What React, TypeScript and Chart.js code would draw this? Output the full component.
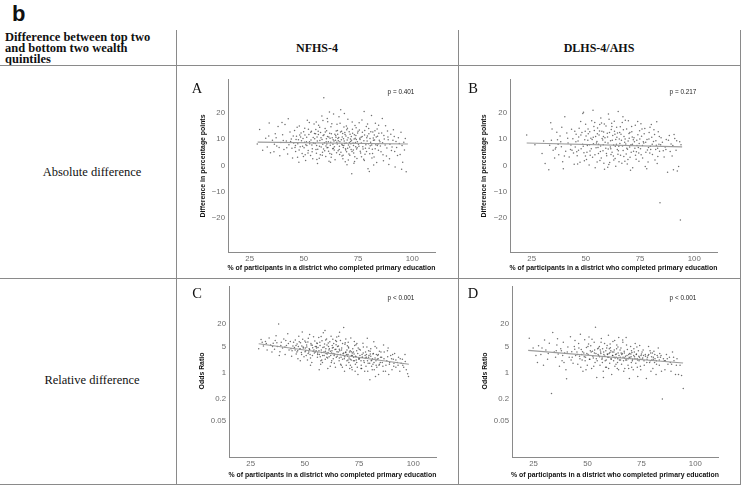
import React, { useEffect, useRef } from "react";
import { Chart, registerables } from "chart.js";
Chart.register(...registerables);

const xTicks = [25, 50, 75, 100];
const absTicks = [-20, -10, 0, 10, 20];
const relTicks = [0.05, 0.2, 1, 5, 20];

const pointsA: number[][] = [
  [28.5,8.2],[29.6,13.7],[31,5.8],[32.4,10.4],[33.1,7.1],[34,16.2],[34.6,4.9],[33.8,11.3],
  [35.5,9.6],[36.2,5.2],[36.8,12.1],[37.5,7.4],[38.1,14.9],[38.9,3.7],[39.4,8.8],[40.2,11.7],[40.8,6.1],[41.3,15.6],[41.9,9.3],[42.5,4.4],[43.1,7.9],[43.6,12.8],[44.2,10.1],[44.8,2.9],[42.8,17.8],[39.9,16.4],[44.5,6.6],[37.2,10.6],
  [45.3,8.6],[45.7,13.4],[46.2,5.3],[46.6,11.2],[47.1,3.1],[47.5,9.8],[47.9,15.1],[48.3,7.2],[48.7,12.4],[49.2,4.6],[49.6,10.3],[50.1,6.8],[50.4,14.2],[50.8,1.9],[51.2,9.1],[51.6,17.3],[52,5.7],[52.3,11.8],[52.7,8.3],[53.1,3.8],[53.5,13.1],[53.9,6.4],[54.3,10.7],[54.7,15.8],[45.9,6.9],[46.9,14.6],[47.7,1.2],[48.9,9.4],[49.9,12.9],[50.6,4.1],[51.4,7.6],[52.5,16.4],[53.3,9.7],[54.1,2.6],[54.9,12.2],[46.4,9.9],[48.1,11.6],[50.3,8.9],[52.1,13.8],[53.7,7.8],
  [55.2,8.4],[55.5,13.7],[55.8,4.7],[56.1,10.9],[56.4,6.2],[56.8,15.4],[57.1,2.8],[57.4,9.5],[57.7,12.6],[58,7.1],[58.3,18.9],[58.6,5.1],[58.9,11.4],[59.2,25.8],[59.5,8.7],[59.8,14.1],[60.1,3.4],[60.4,10.2],[60.7,6.8],[61,16.7],[61.3,9.1],[61.6,1.6],[61.9,12.3],[62.2,7.7],[62.5,14.8],[62.8,4.3],[63.1,10.6],[63.4,8.1],[63.7,19.6],[64,5.9],[64.3,11.9],[64.6,9.6],[64.9,13.2],[55.9,7.6],[56.7,11.8],[57.6,4.1],[58.4,9.9],[59.1,6.3],[59.9,12.8],[60.6,8.2],[61.4,5.4],[62.1,10.4],[62.9,15.9],[63.6,6.6],[64.4,2.2],[57.3,14.6],[60.9,11.1],[63.9,9.3],[56.3,0.8],[61.8,20.4],[58.8,17.2],[62.6,3.1],[60.2,7.4],[64.8,10.8],[55.4,12.1],
  [65.2,8.9],[65.5,13.4],[65.8,5.6],[66.1,10.7],[66.4,7.3],[66.7,16.1],[67,21.3],[67.3,9.8],[67.6,3.6],[67.9,12.2],[68.2,6.9],[68.5,14.7],[68.8,8.4],[69.1,1.4],[69.4,11.3],[69.7,5.2],[70,9.7],[70.3,17.6],[70.6,7.8],[70.9,12.9],[71.2,3.9],[71.5,10.1],[71.8,6.1],[72.1,-3.1],[72.4,13.8],[72.7,8.6],[73,4.8],[73.3,11.7],[73.6,15.3],[73.9,7.2],[74.2,9.9],[74.5,2.7],[74.8,12.4],[65.6,11.9],[66.5,4.2],[67.4,13.1],[68.3,10.2],[69.2,6.4],[70.1,14.2],[71,8.8],[71.9,11.1],[72.8,5.9],[73.7,10.4],[74.6,6.8],[66.2,18.6],[68.7,19.8],[70.5,2.1],[72.3,16.6],[74.1,14.4],[69.9,0.3],[67.8,7.7],[71.6,9.2],[73.4,1.5],[65.9,9.4],[68.9,12.6],
  [75.2,8.1],[75.6,13.5],[76,5.4],[76.4,10.8],[76.8,17.4],[77.2,7.2],[77.6,2.4],[78,11.6],[78.4,6.6],[78.8,14.9],[79.2,9.3],[79.6,-1.2],[80,12.1],[80.4,4.5],[80.8,8.9],[81.2,19.1],[81.6,6.2],[82,10.5],[82.4,3.2],[82.8,13.3],[83.2,7.9],[83.6,1.1],[84,11.2],[84.4,5.8],[84.8,9.6],[75.9,9.9],[77,12.7],[78.2,4.3],[79.4,15.8],[80.6,7.5],[81.8,12.8],[83,16.1],[84.2,8.2],[76.6,3.3],[79,10.6],[81.4,2.9],[83.8,13.9],[77.8,20.6],[80.2,-2.3],[82.6,9.7],
  [85.3,7.4],[85.9,12.4],[86.5,4.1],[87.1,10.1],[87.7,15.2],[88.3,6.7],[88.9,9.8],[89.5,2.6],[90.1,11.9],[90.7,7.1],[91.3,13.6],[91.9,5.3],[92.5,9.2],[93.2,3.8],[94,8.4],[94.8,12.7],[95.6,1.2],[96.4,5.9],[97.2,-2.4],[96.8,10.3],[86.2,17.9],[89.2,0.4],[92.1,-0.6],[95.1,-1.4],[88.6,13.2],
  [50.9,7.9],[51.3,10.8],[51.9,4.8],[52.6,9.1],[53.2,12.7],[53.8,5.2],[54.4,8.6],[55,10.2],[55.6,6.1],[56.2,9.3],[56.6,13.1],[57.2,7.3],[57.9,10.6],[58.5,3.9],[58.7,8.1],[59.3,11.7],[59.6,5.6],[60.3,9.1],[60.5,13.3],[61.1,6.9],[61.5,10.9],[62,4.6],[62.4,8.9],[62.7,12.1],[63.3,6.4],[63.5,9.8],[64.1,7.2],[64.7,11.4],[65.1,4.9],[65.4,8.2],[65.7,10.3],[66.3,6.1],[66.6,9.1],[66.9,12.8],[67.1,5.1],[67.5,8.1],[67.7,10.9],[68.1,3.9],[68.4,7.6],[68.6,9.3],[69,11.8],[69.3,5.9],[69.5,8.6],[69.8,13.6],[70.2,6.6],[70.4,10.6],[70.8,4.4],[71.1,7.1],[71.3,11.9],[71.7,8.3],[72,9.6],[72.2,5.3],[72.5,12.3],[72.9,7.6],[73.2,10.1],[73.5,3.3],[73.8,8.8],[74,11.4],[74.3,6.3],[74.7,9.1],[75,13.1],[75.4,7.3],[75.8,10.4],[76.2,4.8],[76.5,8.6],[76.9,11.1],[77.3,6.3],[77.7,9.4],[78.1,13.4],[78.6,7.9],[78.9,5.3],[79.3,11.3],[79.8,8.3],[80.1,6.6],[80.5,10.3],[80.9,12.9],[81.3,7.8],[81.7,4.6],[82.1,9.6],[82.5,11.6],[82.9,6.4],[83.4,10.9],[83.9,7.6],[84.6,12.3],[85.1,9.1],[85.6,5.2],[86.3,8.7],[86.9,11.4],[87.5,7.8],[88.1,3.6],[88.8,10.9],[89.7,8.1],[90.4,5.7],[91.1,9.6],[91.7,11.1],[92.8,6.9],[93.6,10.6],[94.4,4.2],[95.3,7.6],[96.1,8.9],[47.2,8.3],[47.8,5.9],[48.5,10.9],[49.4,7.3],[49.8,3.4],[50.5,11.6],[45.1,11.3],[46.1,7.6],[43.9,9.2],[42.1,6.8],[40.5,9.5],[38.6,6.9],[36.4,8.1],[55.7,16.6],[60.8,17.9],[65.3,15.7],[69.6,15.1],[75.5,16.3],[79.9,14.1],[84.5,15.4],[56,2.3],[62.3,1.2],[68,2.6],[73.1,0.9],[77.9,1.9],[82.2,0.2],[86.7,1.8]
];
const lineA: number[][] = [[28.7, 8.9], [98, 8.2]];

const pointsB: number[][] = [
  [22.7,11.6],[26.5,7.9],[29.8,4.6],[31.2,0.8],[32.9,-1.6],[33.3,7.7],[33.8,16.3],[34.4,13.9],[34.9,5.8],[30.5,9.3],
  [35.6,2.9],[36.2,6.9],[36.9,9.8],[37.5,4.1],[38.1,11.3],[38.7,7.2],[39.3,1.4],[39.6,-1.2],[40.3,18.6],[40.7,5.4],[41.2,12.4],[41.8,8.6],[42.3,3.2],[42.9,6.1],[43.4,13.8],[44,10.2],[44.6,0.5],[36.6,12.7],[38.9,14.6],[43.1,7.8],[35.9,6.3],[44.3,4.8],
  [45.1,7.1],[45.5,11.9],[46,3.7],[46.4,9.3],[46.9,14.2],[47.3,1.2],[47.8,6.4],[48.2,12.6],[48.6,19.8],[49.1,4.9],[49.5,9.8],[49.9,15.7],[50.3,2.3],[50.7,7.6],[51.1,12.1],[51.5,0.2],[51.9,5.5],[52.3,10.4],[52.7,17.1],[53.1,3.1],[53.5,8.3],[53.9,13.4],[54.3,-0.9],[54.7,6.8],[45.8,5.2],[46.7,10.9],[47.6,16.8],[48.5,8.1],[49.3,1.8],[50.1,11.3],[51,13.9],[52,3.9],[52.9,9.9],[53.7,14.9],[54.5,11.1],[48.9,20.3],[46.2,0.6],[50.5,5.1],[53.3,21.1],[54.1,16.4],[51.7,7.9],[49.7,13.1],
  [55.1,9.2],[55.4,14.3],[55.8,4.6],[56.1,11.6],[56.5,1.9],[56.8,7.4],[57.2,16.2],[57.5,10.3],[57.9,5.6],[58.2,12.8],[58.6,-1.4],[58.9,8.9],[59.3,15.1],[59.6,3.7],[60,10.9],[60.3,6.3],[60.7,17.6],[61,1.1],[61.4,9.4],[61.7,13.7],[62.1,5.1],[62.4,11.4],[62.8,7.8],[63.1,16.9],[63.5,2.7],[63.8,9.9],[64.2,14.6],[64.5,6.1],[64.9,20.6],[55.6,6.9],[56.3,13.2],[57.1,2.9],[57.8,9.7],[58.5,15.8],[59.2,6.6],[59.9,12.3],[60.6,0.4],[61.3,7.1],[62,14.9],[62.7,3.6],[63.4,11.9],[64.1,8.1],[64.8,4.3],[56.9,18.1],[60.1,-0.7],[63.2,13.1],[58.1,11.1],[61.6,4.2],[55.2,1.3],[64.6,12.4],
  [65.2,7.3],[65.6,12.6],[66,3.9],[66.4,9.6],[66.8,16.4],[67.2,5.7],[67.6,11.1],[68,1.6],[68.4,8.2],[68.8,13.9],[69.2,6.2],[69.6,17.1],[70,10.4],[70.4,3.1],[70.8,7.9],[71.2,12.9],[71.6,-0.9],[72,5.4],[72.4,9.1],[72.8,15.4],[73.2,2.4],[73.6,7.6],[74,11.7],[74.4,4.8],[74.8,13.3],[65.9,14.8],[66.6,0.9],[67.9,8.9],[68.6,4.4],[69.9,12.2],[70.6,-1.8],[71.9,9.8],[72.6,6.6],[73.9,16.8],[74.6,8.4],[67.3,13.6],[69.4,2.3],[71.4,10.9],[73.3,5.2],[65.4,10.1],[70.2,7.1],[68.2,17.3],
  [75.2,6.4],[75.7,11.2],[76.2,2.9],[76.7,8.6],[77.2,14.1],[77.7,5.1],[78.2,9.9],[78.7,1.3],[79.2,12.6],[79.7,7.3],[80.2,15.6],[80.7,4.2],[81.2,9.2],[81.7,11.8],[82.2,6.1],[82.7,16.7],[83.2,3.4],[83.7,8.1],[84.2,-14.2],[84.7,10.6],[75.9,13.9],[77.4,-0.4],[78.9,6.9],[80.4,10.8],[81.9,2.1],[83.4,12.9],[76.5,9.1],[79.5,4.8],[82.5,7.7],[84,5.4],
  [85.3,8.9],[86.1,3.2],[86.9,6.1],[87.7,-2.6],[88.5,11.4],[89.3,8.2],[89.8,3.6],[90.4,-1.6],[91,10.3],[91.6,5.8],[92.2,-2.1],[92.8,-0.4],[93.3,9.1],[93.6,-20.8],[93.9,7.9],[88.1,9.6],[90.7,11.8],[86.6,7.1],
  [45.4,9.1],[46.6,5.8],[47.7,11.6],[48.8,7.3],[49.8,3.6],[50.9,9.6],[51.8,12.9],[52.5,6.4],[53.4,10.8],[54.2,4.1],[54.9,8.6],[55.3,12.1],[55.9,8.1],[56.7,5.3],[57.4,13.1],[58,7.9],[58.8,10.6],[59.5,4.6],[60.2,8.6],[60.9,12.6],[61.5,6.4],[62.2,9.6],[62.9,2.1],[63.6,7.3],[64.3,10.8],[65,5.6],[65.7,8.4],[66.2,11.9],[66.9,7.4],[67.5,3.4],[68.1,10.1],[68.9,6.6],[69.5,9.3],[70.3,12.6],[70.9,5.1],[71.5,8.1],[72.2,10.6],[72.9,3.9],[73.5,9.6],[74.2,6.9],[74.9,10.1],[75.5,4.1],[76.1,7.6],[76.9,12.1],[77.6,8.9],[78.4,5.9],[79.1,10.1],[79.9,6.1],[80.6,8.1],[81.4,13.6],[82.3,9.4],[83.1,6.6],[83.9,11.1],[84.5,7.9],[85.7,5.6],[87.1,9.9],[88.9,5.3],[90.1,7.6],[91.9,9.4],[38.4,9.1],[40.1,3.6],[41.6,10.4],[43.6,5.8],[44.9,13.1],[37.2,8.1],[34.1,9.6],[56.4,15.6],[61.9,16.1],[67.1,18.6],[71.1,14.9],[75.4,15.9],[79.6,14.6],[58.3,0.9],[63.8,-0.3],[69.1,0.6],[74.5,1.6],[78.1,-1.2],[82.9,0.8],[60.4,19.6],[65.3,1.4]
];
const lineB: number[][] = [[22.7, 8.6], [94.4, 7.1]];

const pointsC: number[][] = [
  [28.7,4.4],[29.8,7.8],[30.9,5.2],[31.8,6.9],[32.6,4.1],[33.5,8.6],[34.2,5.6],[34.8,3.6],
  [35.4,6.2],[36,4.3],[36.7,9.8],[37.3,5.1],[37.9,20.5],[38.5,3.7],[39.1,6.6],[39.7,4.6],[40.3,8.1],[40.9,3.1],[41.5,5.4],[42.1,11.2],[42.7,4.1],[43.3,6.9],[43.9,2.8],[44.5,5.2],[36.3,7.4],[38.2,2.9],[41.2,7.3],[44.1,3.9],
  [45.2,4.8],[45.6,7.6],[46,3.2],[46.4,5.9],[46.8,2.4],[47.2,9.6],[47.6,4.3],[48,6.4],[48.4,3.5],[48.8,12.4],[49.2,4.9],[49.6,2.7],[50,7.1],[50.4,3.9],[50.8,5.6],[51.2,2.2],[51.6,8.4],[52,4.4],[52.4,3.1],[52.8,6.1],[53.2,1.9],[53.6,4.7],[54,9.2],[54.4,3.4],[54.8,5.1],[45.9,5.4],[46.7,3.9],[47.9,2.1],[49,7.9],[50.2,4.6],[51.4,6.7],[52.6,1.6],[53.8,3.8],[54.6,7.1],[48.6,5.2],[50.6,2.9],[52.2,10.6],[53.4,5.5],[47.4,6.8],[51.8,3.6],
  [55.2,3.9],[55.5,6.3],[55.8,2.6],[56.1,4.8],[56.4,8.9],[56.7,3.1],[57,5.4],[57.3,1.7],[57.6,4.1],[57.9,7.2],[58.2,2.9],[58.5,11.8],[58.8,3.6],[59.1,5.9],[59.4,2.3],[59.7,4.4],[60,8.1],[60.3,3.2],[60.6,1.3],[60.9,5.1],[61.2,2.7],[61.5,6.8],[61.8,3.8],[62.1,9.6],[62.4,2.1],[62.7,4.6],[63,3.3],[63.3,6.1],[63.6,1.8],[63.9,4.2],[64.2,7.4],[64.5,2.6],[64.8,3.7],[55.9,3.4],[56.9,6.6],[57.8,2.2],[58.9,4.9],[59.8,3.3],[60.8,6.3],[61.7,1.5],[62.6,5.4],[63.5,2.9],[64.4,5.7],[56.6,1.2],[59.3,13.6],[61.1,4.1],[62.9,7.9],[64.1,1.4],[57.5,9.4],[60.5,2.5],[63.1,4.8],[58.1,1.9],[62.3,3.4],[55.3,5.1],[64.7,9.1],
  [65.2,3.1],[65.5,5.2],[65.8,2.1],[66.1,3.9],[66.4,7.4],[66.7,2.6],[67,4.6],[67.3,1.4],[67.6,3.3],[67.9,16.3],[68.2,2.4],[68.5,5.8],[68.8,3.5],[69.1,1.6],[69.4,4.1],[69.7,2.8],[70,6.6],[70.3,1.9],[70.6,3.6],[70.9,2.3],[71.2,8.6],[71.5,2.9],[71.8,1.2],[72.1,4.4],[72.4,2.1],[72.7,3.2],[73,5.4],[73.3,1.7],[73.6,2.7],[73.9,3.9],[74.2,1.4],[74.5,0.9],[74.8,2.5],[65.6,9.6],[66.5,1.7],[67.4,6.1],[68.3,1.1],[69.2,3.1],[70.1,4.9],[71,1.6],[71.9,3.4],[72.8,6.9],[73.7,2.2],[74.6,4.6],[66,12.2],[68.9,8.1],[70.7,1.3],[72.5,2.6],[74,6.1],[67.7,2.9],[69.6,5.3],[71.4,3.7],[73.2,1.1],[65.9,4.3],[69.9,2.2],
  [75.2,2.4],[75.6,4.1],[76,1.6],[76.4,3.1],[76.8,6.2],[77.2,2.1],[77.6,1.1],[78,3.6],[78.4,2.6],[78.8,8.4],[79.2,1.8],[79.6,2.9],[80,0.65],[80.4,4.4],[80.8,1.5],[81.2,2.4],[81.6,3.3],[82,1.2],[82.4,5.1],[82.8,2.1],[83.2,1.4],[83.6,2.9],[84,0.9],[84.4,3.8],[84.8,1.9],[75.9,1.3],[77,4.9],[78.2,1.5],[79.4,3.9],[80.6,2.1],[81.8,6.8],[83,3.1],[84.2,1.6],[76.6,2.6],[79,1.1],[81.4,1.7],[83.8,2.4],[77.8,2.9],[80.2,3.2],[82.6,0.8],
  [85.4,2.6],[86,1.5],[86.6,3.6],[87.2,1.1],[87.8,2.1],[88.4,4.6],[89,1.7],[89.6,2.9],[90.2,1.2],[90.8,2.3],[91.4,3.3],[92,1.4],[92.6,1.9],[93.2,2.6],[93.8,1.1],[94.4,1.8],[95,2.3],[95.6,1.4],[96.2,3.1],[96.8,1.2],[97.4,0.95],[97.8,0.8],[86.3,5.6],[88.7,0.9],[91.1,1.8],
  [45.5,4.1],[46.3,3.6],[47,5.1],[47.8,4.4],[48.5,3.1],[49.3,4.6],[50.1,3.7],[50.9,4.9],[51.5,3.3],[52.2,4.2],[52.9,5.6],[53.5,2.9],[54.2,4.1],[54.9,3.6],[55.4,4.6],[55.9,3.1],[56.5,3.9],[57.1,2.7],[57.7,3.5],[58.3,4.8],[58.9,2.9],[59.5,3.8],[60.1,2.6],[60.7,3.5],[61.3,4.4],[61.9,2.9],[62.5,3.9],[63.1,2.4],[63.7,3.2],[64.3,4.3],[64.9,2.8],[65.4,3.6],[65.9,2.5],[66.4,3.1],[66.9,4.1],[67.4,2.3],[67.9,3.4],[68.4,2.7],[68.9,3.6],[69.4,2.1],[69.9,3.1],[70.4,2.5],[70.9,3.9],[71.4,2.2],[71.9,2.9],[72.4,3.6],[72.9,2.1],[73.4,2.8],[73.9,1.9],[74.4,3.3],[74.9,2.3],[75.4,2.9],[75.9,2.1],[76.4,2.6],[76.9,3.4],[77.4,1.9],[77.9,2.5],[78.4,3.1],[78.9,2.1],[79.4,2.6],[79.9,1.8],[80.4,2.8],[80.9,2.2],[81.4,3.2],[81.9,1.9],[82.4,2.5],[82.9,1.6],[83.4,2.3],[83.9,3.1],[84.4,1.7],[84.9,2.6],[85.7,1.9],[86.5,2.4],[87.4,1.6],[88.2,2.7],[89.1,1.9],[90,2.4],[91,1.5],[92,2.2],[93,1.6],[94,2.4],[95.2,1.6],[96.3,2],[40.8,4.9],[42.4,6.1],[43.6,4.4],[44.8,6.6],[38.9,5.4],[37.1,6.4],[35.1,5.1],[32.2,6.1],[30.3,6.6],[50.4,6.6],[55.7,6.1],[60.2,5.6],[65.1,5.1],[70.2,4.6],[75.1,4.3],[80.1,3.8],[85.1,3.6],[90.5,3.1],[52.6,2.5],[57.4,2.1],[62.2,1.9],[66.8,1.6],[71.6,1.4],[76.2,1.3],[81.1,1.2],[86.2,1.1],[59.6,7.6],[64.6,6.9],[68.6,6.4],[73.6,5.7],[78.6,4.9],[83.1,4.6],[88.1,3.9]
];
const lineC: number[][] = [[28.7, 6.0], [98, 1.7]];

const pointsD: number[][] = [
  [23,8.5],[24.8,4.6],[26.1,2.9],[27.3,5.3],[28.4,3.1],[29.6,1.6],[30.7,4.1],[31.5,2.3],[32.3,6.2],[33.3,0.28],[33.9,12.1],[34.6,3.6],[30.1,7.6],[26.8,1.9],
  [35.2,2.6],[35.8,5.6],[36.4,3.2],[37,1.5],[37.6,4.4],[38.2,2.1],[38.8,6.6],[39.4,3.4],[40,1.2],[40.3,0.69],[40.9,4.9],[41.5,2.6],[42.1,9.3],[42.7,3.7],[43.3,1.8],[43.9,5.1],[44.5,2.9],[36.1,8.2],[39.1,1.9],[42.4,2.2],[44.2,7.4],[37.9,3.9],
  [45.1,3.6],[45.5,1.7],[45.9,6.1],[46.3,2.8],[46.7,10.8],[47.1,4.2],[47.5,2.2],[47.9,1.1],[48.3,3.4],[48.7,7.7],[49.1,2.6],[49.5,4.8],[49.9,1.6],[50.3,3.1],[50.7,9.1],[51.1,2.3],[51.5,5.3],[51.9,1.3],[52.3,3.8],[52.7,2.5],[53.1,6.6],[53.5,1.9],[53.7,16.6],[53.9,3.3],[54.3,0.75],[54.7,4.4],[46,4.6],[47.3,3.1],[48.9,2.1],[50.5,5.9],[51.7,3.6],[53.3,4.1],[54.5,2.1],[49.3,1.2],[52.1,7.9],[46.9,1.4],
  [55.2,2.9],[55.5,5.1],[55.8,1.6],[56.1,3.6],[56.4,8.3],[56.7,2.3],[57,4.4],[57.3,1.1],[57.6,3.1],[57.9,6.1],[58.2,2.1],[58.5,3.9],[58.8,1.4],[59.1,5.4],[59.4,2.6],[59.7,10.1],[60,3.3],[60.3,1.8],[60.6,4.7],[60.9,2.4],[61.2,0.9],[61.5,3.6],[61.8,6.9],[62.1,2.1],[62.4,4.1],[62.7,1.5],[63,3.1],[63.3,2.6],[63.6,5.6],[63.9,1.9],[64.2,3.4],[64.5,8.9],[64.8,2.2],[55.9,4.1],[56.9,1.9],[57.8,2.8],[58.9,4.6],[59.8,1.3],[60.8,3.9],[61.7,2.9],[62.6,7.4],[63.5,4.4],[64.4,1.2],[56.3,6.6],[59.3,3.1],[62.3,2.6],[64.1,4.9],[57.4,0.75],[60.5,5.9],[63.2,1.7],
  [65.2,2.6],[65.5,4.6],[65.8,1.7],[66.1,3.3],[66.4,6.6],[66.7,2.1],[67,3.8],[67.3,1.3],[67.6,2.8],[67.9,8.8],[68.2,2.2],[68.5,4.2],[68.8,1.6],[69.1,3.1],[69.4,0.7],[69.7,2.5],[70,5.1],[70.3,1.9],[70.6,3.5],[70.9,2.3],[71.2,1.2],[71.5,4.4],[71.8,2.7],[72.1,6.1],[72.4,1.8],[72.7,3.2],[73,2.4],[73.3,0.8],[73.6,3.9],[73.9,2.1],[74.2,5.4],[74.5,1.5],[74.8,2.9],[65.6,3.4],[66.8,1.1],[68.1,5.6],[69.3,2.6],[70.5,1.4],[71.7,3.6],[72.9,4.9],[74.1,2.6],[67.2,2.5],[70.1,3.2],[73.1,1.4],[66.3,7.6],
  [75.3,2.3],[75.8,4.1],[76.3,1.6],[76.8,3.1],[77.3,0.7],[77.8,2.6],[78.3,5.1],[78.8,1.9],[79.3,3.4],[79.8,2.2],[80.3,1.3],[80.8,3.8],[81.3,2.4],[81.8,0.9],[82.3,2.9],[82.8,4.6],[83.3,1.6],[83.8,2.6],[84.7,0.2],[84.3,1.1],[76,2.9],[77.5,1.9],[79,3.9],[80.5,2.6],[82,1.7],[83.5,3.3],[78.1,2.9],[81.1,1.9],
  [85.2,2.4],[85.9,1.2],[86.6,3.1],[87.3,1.7],[88,2.6],[88.7,1.1],[89.4,3.6],[90.1,2.1],[90.8,0.9],[91.5,2.4],[92.2,0.9],[92.9,1.6],[93.6,0.85],[94.4,0.38],[89,1.7],[86.1,2.1],
  [45.3,3.1],[46.5,2.4],[47.7,3.7],[48.5,2.7],[49.7,3.3],[50.9,2.3],[51.3,3.9],[52.5,2.8],[53.2,3.4],[54.1,2.4],[54.9,3.1],[55.6,2.7],[56.2,3.3],[56.8,2.5],[57.5,3.6],[58.1,2.8],[58.7,2.2],[59.2,3.2],[59.9,2.6],[60.4,3.5],[61,2.3],[61.6,2.9],[62.2,3.6],[62.8,2.5],[63.4,3.2],[64,2.4],[64.6,2.9],[65.3,2.2],[65.9,3.1],[66.5,2.6],[67.1,3.4],[67.7,2.2],[68.3,2.9],[68.9,2.4],[69.5,3.3],[70.2,2.7],[70.8,2.1],[71.4,2.9],[72,2.4],[72.6,3.1],[73.2,2.2],[73.8,2.8],[74.4,2.3],[75,3.2],[75.6,2.5],[76.2,2.1],[76.9,2.8],[77.6,2.3],[78.4,3.1],[79.1,2.1],[79.7,2.7],[80.5,2.3],[81.2,3.1],[81.9,2.1],[82.6,2.6],[83.3,2.2],[84.1,2.9],[85.6,2.1],[87,2.4],[88.4,1.9],[89.9,2.6],[91.2,1.6],[38.5,2.9],[40.6,3.6],[42.9,2.6],[44.1,4.3],[35.5,3.9],[31.8,3.3],[28.9,4.6],[50.2,5.1],[55.1,4.6],[60.1,4.4],[65.1,4.1],[70.4,3.9],[75.3,3.6],[80.1,3.4],[52.9,1.5],[58.4,1.4],[63.8,1.3],[69.1,1.3],[74.7,1.2],[79.4,1.1]
];
const lineD: number[][] = [[22.5, 4.0], [94.3, 1.84]];

const xTitle = "% of participants in a district who completed primary education";
const LINE = "#8a8a8a";
const SANS = "'Liberation Sans', Arial, sans-serif";
const SERIF = "'Liberation Serif', 'Times New Roman', serif";

type Spec = {
  left: number; top: number; w: number; h: number;
  padTop: number; padRight: number; yW: number; xH: number;
  points: number[][]; line: number[][]; log: boolean;
};

const fmtTick = (v: number) => (v < 0 ? "\u2212" + Math.abs(v) : String(v));

function Panel({ spec }: { spec: Spec }) {
  const ref = useRef<HTMLCanvasElement | null>(null);
  useEffect(() => {
    if (!ref.current) return;
    const s = spec;
    const yTickVals = s.log ? relTicks : absTicks;
    const chart = new Chart(ref.current, {
      type: "scatter",
      data: {
        datasets: [
          {
            type: "line",
            data: s.line.map(([x, y]) => ({ x, y })),
            borderColor: "rgba(150,150,150,0.95)",
            borderWidth: 1.1,
            pointRadius: 0,
            fill: false,
            order: 0,
          } as any,
          {
            data: s.points.map(([x, y]) => ({ x, y })),
            pointRadius: 0.75,
            pointBackgroundColor: "rgba(15,15,15,0.6)",
            pointBorderWidth: 0,
            order: 1,
          },
        ],
      },
      options: {
        responsive: false,
        animation: false,
        devicePixelRatio: 1,
        events: [],
        layout: { padding: { left: 0, top: s.padTop, right: s.padRight, bottom: 0 } },
        plugins: { legend: { display: false }, tooltip: { enabled: false } },
        scales: {
          x: {
            type: "linear",
            min: 15,
            max: 110.5,
            afterBuildTicks: (sc: any) => { sc.ticks = xTicks.map((v) => ({ value: v })); },
            afterFit: (sc: any) => { sc.height = s.xH; },
            grid: { display: false, drawTicks: false },
            border: { display: true, color: LINE, width: 1 },
            ticks: { padding: 2, color: "#6b6b6b", font: { family: SANS, size: 7.8 }, callback: (v: any) => fmtTick(Number(v)), maxRotation: 0 },
          },
          y: {
            type: s.log ? "logarithmic" : "linear",
            min: s.log ? 0.00553 : -33,
            max: s.log ? 204 : 33,
            afterBuildTicks: (sc: any) => { sc.ticks = yTickVals.map((v) => ({ value: v })); },
            afterFit: (sc: any) => { sc.width = s.yW; },
            grid: { display: false, drawTicks: false },
            border: { display: true, color: LINE, width: 1 },
            ticks: { padding: 3, color: "#6b6b6b", font: { family: SANS, size: 7.8 }, callback: (v: any) => fmtTick(Number(v)) },
          },
        } as any,
      },
    } as any);
    return () => chart.destroy();
  }, [spec]);
  return (
    <canvas
      ref={ref}
      width={spec.w}
      height={spec.h}
      style={{ position: "absolute", left: spec.left, top: spec.top, width: spec.w, height: spec.h }}
    />
  );
}

const specA: Spec = { left: 177, top: 66, w: 280, h: 211, padTop: 13, padRight: 22, yW: 51, xH: 25, points: pointsA, line: lineA, log: false };
const specB: Spec = { left: 459, top: 66, w: 281, h: 211, padTop: 13, padRight: 23, yW: 51, xH: 25, points: pointsB, line: lineB, log: false };
const specC: Spec = { left: 177, top: 279, w: 280, h: 205, padTop: 6, padRight: 21, yW: 52, xH: 27, points: pointsC, line: lineC, log: true };
const specD: Spec = { left: 459, top: 279, w: 281, h: 205, padTop: 6, padRight: 22, yW: 53, xH: 27, points: pointsD, line: lineD, log: true };

function T({ x, y, children, style, rot }: { x: number; y: number; children: any; style?: any; rot?: boolean }) {
  return (
    <div
      style={{
        position: "absolute",
        left: x,
        top: y,
        transform: "translate(-50%,-50%)" + (rot ? " rotate(-90deg)" : ""),
        whiteSpace: "nowrap",
        lineHeight: 1,
        ...style,
      }}
    >
      {children}
    </div>
  );
}

const hLine = (y: number, x1: number, x2: number) => (
  <div style={{ position: "absolute", left: x1, top: y, width: x2 - x1, height: 1, background: LINE }} />
);
const vLine = (x: number, y1: number, y2: number) => (
  <div style={{ position: "absolute", left: x, top: y1, width: 1, height: y2 - y1, background: LINE }} />
);

export default function App() {
  const axTitle = { fontFamily: SANS, fontWeight: 700, fontSize: 6.9, color: "#111" };
  const pStyle = { fontFamily: SANS, fontSize: 6.4, color: "#222" };
  const letter = { fontFamily: SERIF, fontSize: 14.5, color: "#111" };
  return (
    <div style={{ position: "fixed", left: 0, top: 0, width: 742, height: 485, background: "#fff", overflow: "hidden" }}>
      <div style={{ position: "absolute", left: 12, top: 1, fontFamily: SANS, fontWeight: 700, fontSize: 22, color: "#111" }}>b</div>
      <div style={{ position: "absolute", left: 5, top: 32, fontFamily: SERIF, fontWeight: 700, fontSize: 12.5, lineHeight: "11px", color: "#111", whiteSpace: "nowrap" }}>
        Difference between top two<br />and bottom two wealth<br />quintiles
      </div>
      <T x={317} y={47.5} style={{ fontFamily: SERIF, fontWeight: 700, fontSize: 12, color: "#111" }}>NFHS-4</T>
      <T x={599} y={47.5} style={{ fontFamily: SERIF, fontWeight: 700, fontSize: 12, color: "#111" }}>DLHS-4/AHS</T>
      <T x={92} y={172} style={{ fontFamily: SERIF, fontSize: 12.5, color: "#111" }}>Absolute difference</T>
      <T x={92} y={380} style={{ fontFamily: SERIF, fontSize: 12.5, color: "#111" }}>Relative difference</T>

      {hLine(65, 0, 741)}
      {hLine(278, 0, 741)}
      {hLine(484, 0, 741)}
      {vLine(176, 30, 485)}
      {vLine(458, 30, 485)}
      {vLine(740, 30, 485)}

      <Panel spec={specA} />
      <Panel spec={specB} />
      <Panel spec={specC} />
      <Panel spec={specD} />

      <T x={197} y={88} style={letter}>A</T>
      <T x={473} y={88} style={letter}>B</T>
      <T x={197} y={293} style={letter}>C</T>
      <T x={473} y={293} style={letter}>D</T>

      <T x={401} y={92} style={pStyle}>p = 0.401</T>
      <T x={683} y={92} style={pStyle}>p = 0.217</T>
      <T x={401} y={298} style={pStyle}>p &lt; 0.001</T>
      <T x={683} y={298} style={pStyle}>p &lt; 0.001</T>

      <T x={203} y={165.5} rot style={axTitle}>Difference in percentage points</T>
      <T x={484} y={165.5} rot style={axTitle}>Difference in percentage points</T>
      <T x={202} y={371} rot style={axTitle}>Odds Ratio</T>
      <T x={485} y={371} rot style={axTitle}>Odds Ratio</T>

      <T x={331.5} y={268} style={axTitle}>{xTitle}</T>
      <T x={613.5} y={268} style={axTitle}>{xTitle}</T>
      <T x={332.5} y={475} style={axTitle}>{xTitle}</T>
      <T x={615} y={475} style={axTitle}>{xTitle}</T>
    </div>
  );
}
